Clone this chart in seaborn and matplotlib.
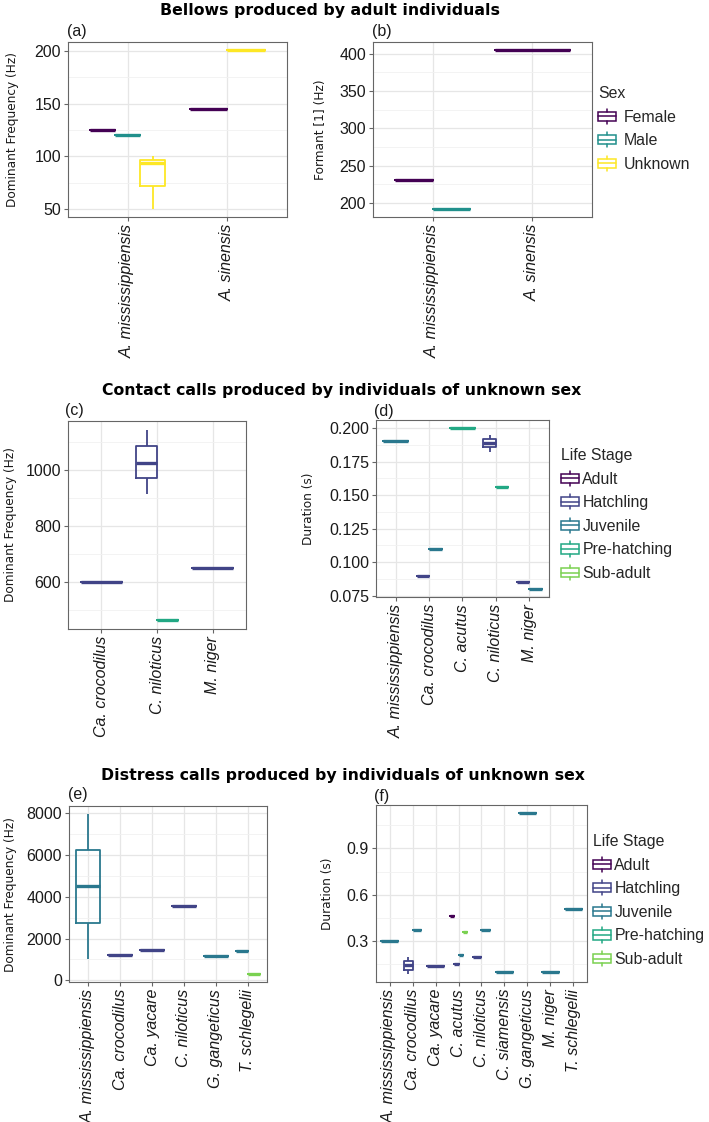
import pandas as pd
import matplotlib.pyplot as plt
import seaborn as sns
from matplotlib.patches import Patch, Rectangle
from matplotlib.lines import Line2D
from matplotlib.legend_handler import HandlerBase
from matplotlib.ticker import MultipleLocator, AutoMinorLocator, FormatStrFormatter

# ---- data ----
# (a) bellows, dominant frequency
a_species = ["A. mississippiensis", "A. mississippiensis"] + ["A. mississippiensis"] * 5 + ["A. sinensis", "A. sinensis"]
a_sex = ["Female", "Male"] + ["Unknown"] * 5 + ["Female", "Unknown"]
a_freq = [125, 120, 50, 72, 94, 97, 100, 145, 201]

# (b) bellows, formant 1
b_species = ["A. mississippiensis", "A. mississippiensis", "A. sinensis"]
b_sex = ["Female", "Male", "Female"]
b_formant = [231, 192, 405]

# (c) contact calls, dominant frequency
c_species = ["Ca. crocodilus"] + ["C. niloticus"] * 5 + ["C. niloticus", "M. niger"]
c_stage = ["Hatchling"] * 6 + ["Pre-hatching", "Hatchling"]
c_freq = [600, 915, 972, 1027, 1085, 1142, 465, 650]

# (d) contact calls, duration
d_species = ["A. mississippiensis", "Ca. crocodilus", "Ca. crocodilus", "C. acutus"] + ["C. niloticus"] * 5 + ["C. niloticus", "M. niger", "M. niger"]
d_stage = ["Juvenile", "Hatchling", "Juvenile", "Pre-hatching"] + ["Hatchling"] * 5 + ["Pre-hatching", "Hatchling", "Juvenile"]
d_dur = [0.190, 0.090, 0.110, 0.200, 0.1825, 0.1855, 0.189, 0.192, 0.1945, 0.156, 0.085, 0.080]

# (e) distress calls, dominant frequency
e_species = ["A. mississippiensis"] * 5 + ["Ca. crocodilus", "Ca. yacare", "C. niloticus", "G. gangeticus", "T. schlegelii", "T. schlegelii"]
e_stage = ["Juvenile"] * 5 + ["Hatchling", "Hatchling", "Hatchling", "Juvenile", "Juvenile", "Sub-adult"]
e_freq = [1000, 2750, 4500, 6250, 7970, 1200, 1450, 3550, 1150, 1400, 300]

# (f) distress calls, duration
f_species = (["A. mississippiensis"] + ["Ca. crocodilus"] * 6 + ["Ca. yacare"] + ["C. acutus"] * 4
             + ["C. niloticus", "C. niloticus", "C. siamensis", "G. gangeticus", "M. niger", "T. schlegelii"])
f_stage = (["Juvenile"] + ["Hatchling"] * 5 + ["Juvenile", "Hatchling", "Adult", "Hatchling", "Juvenile", "Sub-adult"]
           + ["Hatchling", "Juvenile", "Juvenile", "Juvenile", "Juvenile", "Juvenile"])
f_dur = [0.30, 0.086, 0.112, 0.141, 0.169, 0.195, 0.37, 0.14, 0.46, 0.15, 0.21, 0.36,
         0.195, 0.37, 0.10, 1.13, 0.10, 0.51]

bel_cats = ["A. mississippiensis", "A. sinensis"]
c_cats = ["Ca. crocodilus", "C. niloticus", "M. niger"]
d_cats = ["A. mississippiensis", "Ca. crocodilus", "C. acutus", "C. niloticus", "M. niger"]
e_cats = ["A. mississippiensis", "Ca. crocodilus", "Ca. yacare", "C. niloticus", "G. gangeticus", "T. schlegelii"]
f_cats = ["A. mississippiensis", "Ca. crocodilus", "Ca. yacare", "C. acutus", "C. niloticus",
          "C. siamensis", "G. gangeticus", "M. niger", "T. schlegelii"]

sex_levels = ["Female", "Male", "Unknown"]
stage_levels = ["Adult", "Hatchling", "Juvenile", "Pre-hatching", "Sub-adult"]
sex_colors = dict(zip(sex_levels, ["#440154", "#21908C", "#FDE725"]))
stage_colors = dict(zip(stage_levels, ["#440154", "#414487", "#2A788E", "#22A884", "#7AD151"]))

W, H = 709, 1122
sns.set_style("white")
plt.rcParams["font.family"] = ["Liberation Sans", "DejaVu Sans"]

fig = plt.figure(figsize=(W / 100, H / 100), dpi=100)


class BoxKey(HandlerBase):
    def create_artists(self, legend, orig_handle, xdescent, ydescent, width, height, fontsize, trans):
        c = orig_handle.get_edgecolor()
        x0, y0 = -xdescent, -ydescent
        xm = x0 + width / 2
        box = Rectangle((x0, y0 + 0.2 * height), width, 0.6 * height, fill=False,
                        edgecolor=c, lw=1.1, transform=trans)
        med = Line2D([x0, x0 + width], [y0 + 0.5 * height] * 2, color=c, lw=1.1, transform=trans)
        w1 = Line2D([xm, xm], [y0, y0 + 0.2 * height], color=c, lw=1.1, transform=trans)
        w2 = Line2D([xm, xm], [y0 + 0.8 * height, y0 + height], color=c, lw=1.1, transform=trans)
        return [box, med, w1, w2]


def panel(box, species, groups, values, cats, levels, colors, ylabel, major, fmt, label_right):
    l, t, r, b = box
    ax = fig.add_axes([l / W, 1 - b / H, (r - l) / W, (b - t) / H])
    df = pd.DataFrame({"species": species, "group": groups, "value": values})
    # ggplot dodges only over the groups present in each category
    for cat in cats:
        sub = df[df["species"] == cat]
        if sub.empty:
            continue
        present = [lv for lv in levels if lv in set(sub["group"])]
        sns.boxplot(data=sub, x="species", y="value", hue="group", order=cats, hue_order=present,
                    palette=colors, fill=False, width=0.75, gap=0, dodge=True, saturation=1,
                    linewidth=1.3, showcaps=False, medianprops={"linewidth": 2.4},
                    legend=False, ax=ax)
    lo, hi = df["value"].min(), df["value"].max()
    pad = 0.05 * (hi - lo)
    ax.set_ylim(lo - pad, hi + pad)
    ax.set_xlim(-0.6, len(cats) - 0.4)
    ax.yaxis.set_major_locator(MultipleLocator(major))
    ax.yaxis.set_minor_locator(AutoMinorLocator(2))
    ax.yaxis.set_major_formatter(FormatStrFormatter(fmt))
    ax.grid(True, which="major", color="#e6e6e6", lw=0.9)
    ax.grid(True, which="minor", axis="y", color="#f1f1f1", lw=0.6)
    ax.set_axisbelow(True)
    for s in ax.spines.values():
        s.set_visible(True)
        s.set_color("#666666")
        s.set_linewidth(0.8)
    ax.tick_params(which="major", length=3, width=0.8, color="#666666", labelsize=11.5,
                   labelcolor="#1a1a1a", pad=2, left=True, bottom=True)
    ax.tick_params(which="minor", length=0)
    ax.set_xticks(range(len(cats)))
    ax.set_xticklabels(cats, rotation=90, fontstyle="italic", va="top", ha="center")
    ax.set_xlabel("")
    ax.set_ylabel(ylabel, fontfamily="DejaVu Sans", fontsize=8.7, color="#1a1a1a")
    ax.yaxis.set_label_coords((label_right - l) / (r - l), 0.5)
    return ax


def legend(title, levels, colors, x, y, textpad):
    handles = [Patch(edgecolor=colors[lv], facecolor="none", label=lv) for lv in levels]
    fig.legend(handles=handles, title=title, loc="upper left", bbox_to_anchor=(x / W, 1 - y / H),
               frameon=False, handler_map={Patch: BoxKey()}, fontsize=11.4, title_fontsize=11.4,
               alignment="left", handlelength=1.15, handleheight=1.1, handletextpad=textpad,
               labelspacing=0.48, borderpad=0, borderaxespad=0)


def ftext(x, y, s, **kw):
    fig.text(x / W, 1 - y / H, s, **kw)


panel((68, 42, 287, 217), a_species, a_sex, a_freq, bel_cats, sex_levels, sex_colors,
      "Dominant Frequency (Hz)", 50, "%d", 19)
panel((373, 42, 592, 217), b_species, b_sex, b_formant, bel_cats, sex_levels, sex_colors,
      "Formant [1] (Hz)", 50, "%d", 327)
panel((68, 421, 246, 629), c_species, c_stage, c_freq, c_cats, stage_levels, stage_colors,
      "Dominant Frequency (Hz)", 200, "%d", 17)
panel((376, 420, 549, 597), d_species, d_stage, d_dur, d_cats, stage_levels, stage_colors,
      "Duration (s)", 0.025, "%.3f", 315)
panel((69, 806, 267, 982), e_species, e_stage, e_freq, e_cats, stage_levels, stage_colors,
      "Dominant Frequency (Hz)", 2000, "%d", 17)
panel((376, 805, 587, 982), f_species, f_stage, f_dur, f_cats, stage_levels, stage_colors,
      "Duration (s)", 0.3, "%.1f", 334)

legend("Sex", sex_levels, sex_colors, 598, 86, 0.5)
legend("Life Stage", stage_levels, stage_colors, 561, 448, 0.2)
legend("Life Stage", stage_levels, stage_colors, 593, 834, 0.2)

title_kw = dict(ha="center", va="center", fontfamily="DejaVu Sans", fontweight="bold", fontsize=11.3,
                color="black")
ftext(330, 10.5, "Bellows produced by adult individuals", **title_kw)
ftext(342, 390, "Contact calls produced by individuals of unknown sex", **title_kw)
ftext(343, 775.5, "Distress calls produced by individuals of unknown sex", **title_kw)

for lab, x, y in [("(a)", 67, 31.7), ("(b)", 372, 31.7), ("(c)", 65, 410.7),
                  ("(d)", 374, 411.7), ("(e)", 68, 795), ("(f)", 374, 796)]:
    ftext(x, y, lab, ha="left", va="center", fontsize=11.5, color="#1a1a1a")

fig.savefig("out.png", dpi=100)
